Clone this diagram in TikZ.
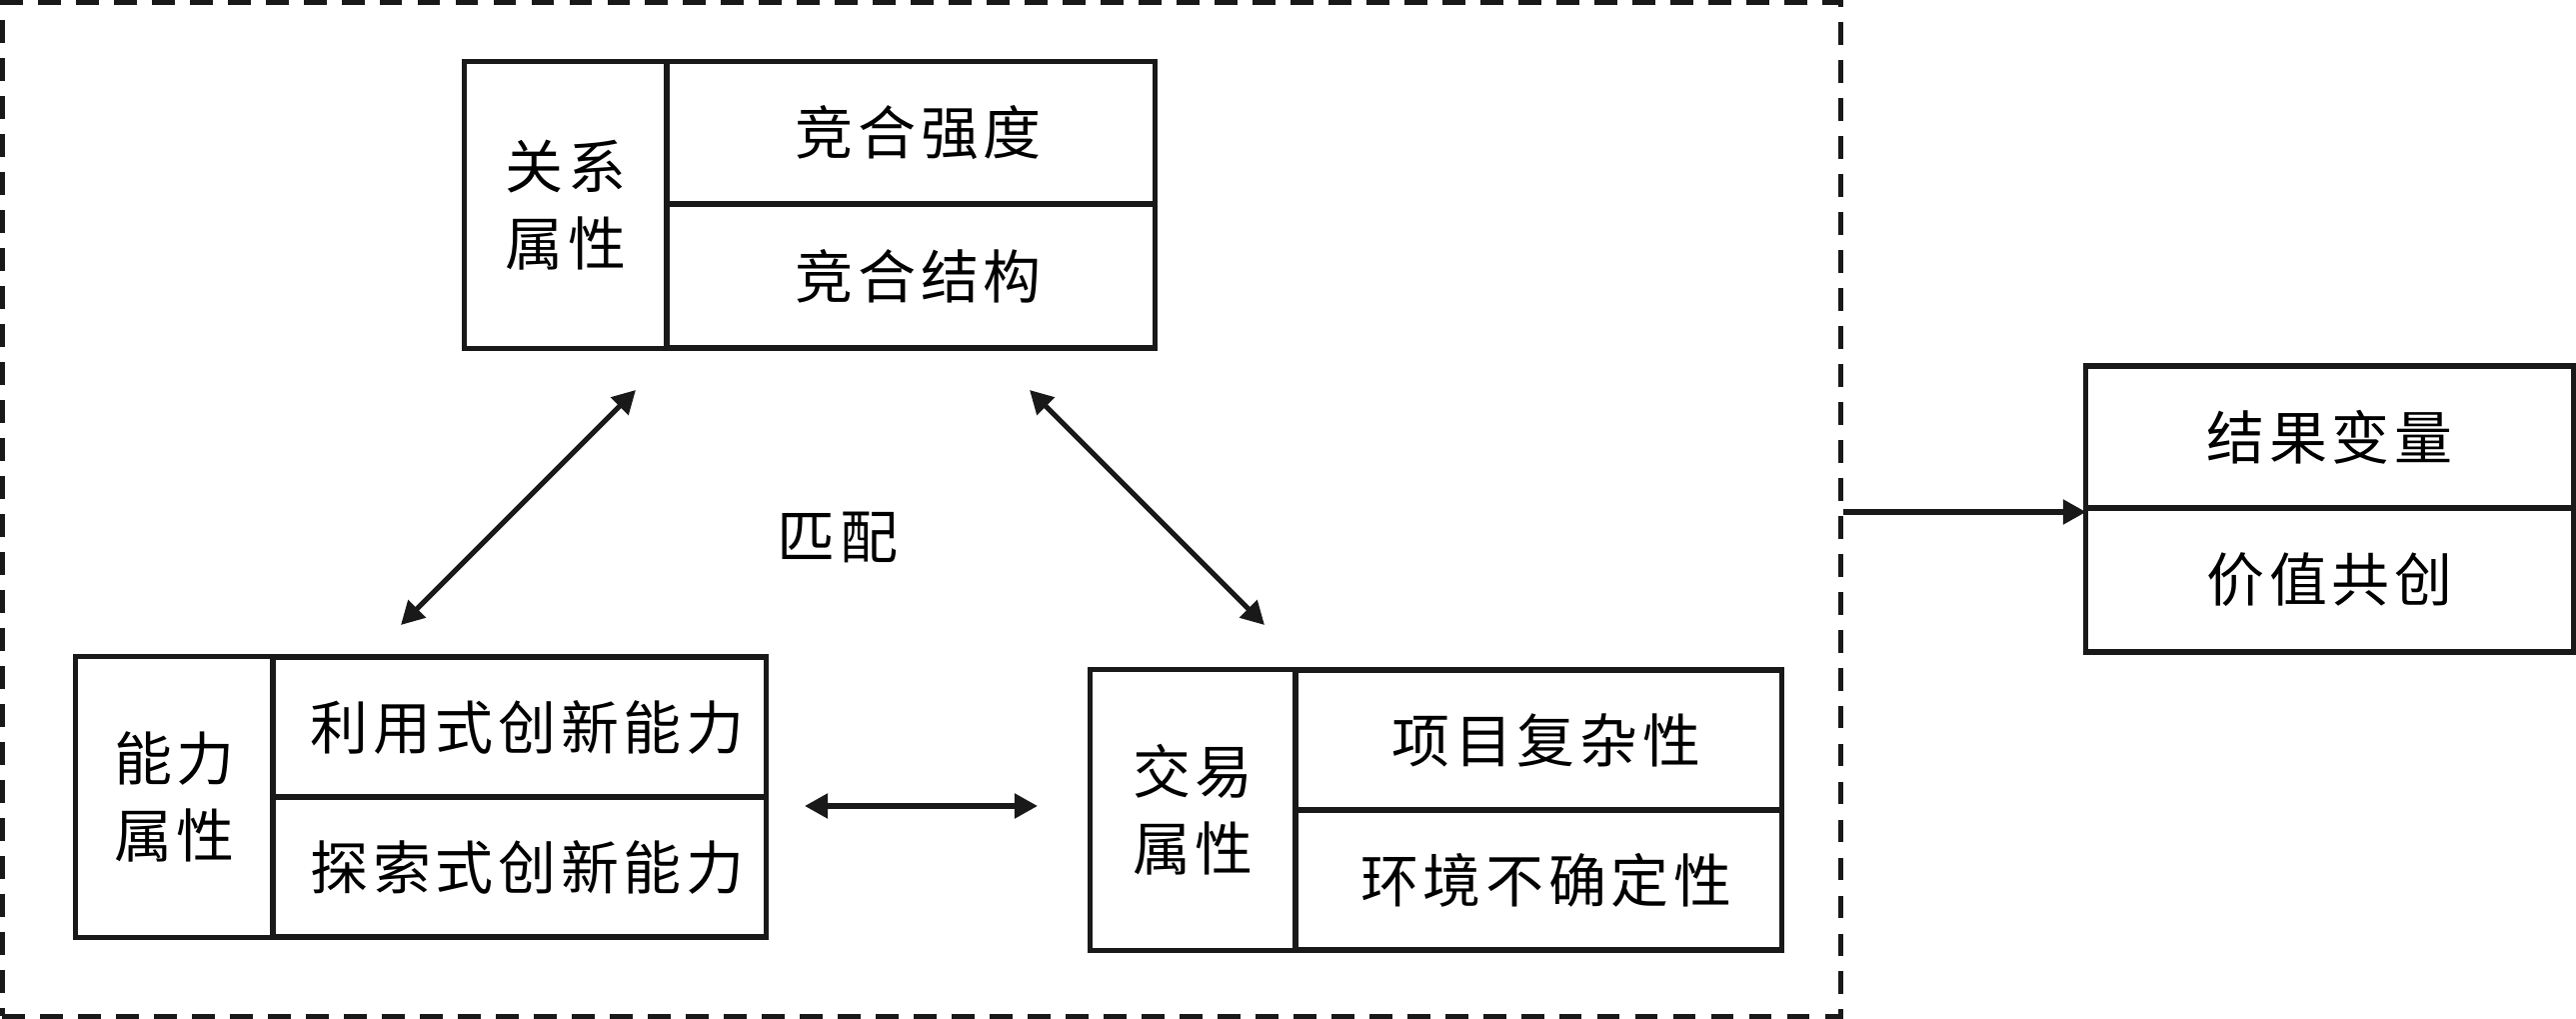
\documentclass[tikz,border=0pt]{standalone}
\usepackage{fontspec}
\setmainfont{Noto Sans CJK SC}[LetterSpace=8]
\usetikzlibrary{arrows.meta}
\tikzset{
  cell/.style={draw=black!90, line width=1.45pt, inner sep=0pt, outer sep=0pt,
    align=center, font=\fontsize{16.5}{22}\selectfont},
  rcell/.style={cell, execute at begin node={\hspace*{0.16cm}}},
  dashbox/.style={draw=black!90, line width=1.4pt, dash pattern=on 6.5pt off 4.3pt, inner sep=0pt},
  arr/.style={line width=1.5pt, draw=black!90, -{Triangle[length=0.23cm,width=0.24cm]}},
  darr/.style={line width=1.45pt, draw=black!90, {Triangle[length=0.23cm,width=0.24cm]}-{Triangle[length=0.23cm,width=0.24cm]}},
  lbl/.style={font=\fontsize{16.5}{22}\selectfont, inner sep=0pt}
}
\begin{document}
\begin{tikzpicture}[x=0.01cm,y=-0.01cm]
\useasboundingbox (0,0) rectangle (2577,1019);
% dashed frame
\node[dashbox, minimum width=18.38cm, minimum height=10.13cm] (frame) at (922,509.5) {};
% top box
\node[cell, minimum width=2.02cm, minimum height=2.86cm] (rl) at (566,205) {关系\\属性};
\node[rcell, minimum width=4.88cm, minimum height=1.42cm] (r1) at (911,133) {竞合强度};
\node[rcell, minimum width=4.88cm, minimum height=1.44cm] (r2) at (911,276) {竞合结构};
% left box
\node[cell, minimum width=1.97cm, minimum height=2.80cm] (cl) at (174.5,797) {能力\\属性};
\node[rcell, minimum width=4.93cm, minimum height=1.40cm] (c1) at (519.5,727) {利用式创新能力};
\node[rcell, minimum width=4.93cm, minimum height=1.40cm] (c2) at (519.5,867) {探索式创新能力};
% right box
\node[cell, minimum width=2.05cm, minimum height=2.80cm] (tl) at (1193.5,810) {交易\\属性};
\node[rcell, minimum width=4.86cm, minimum height=1.40cm] (t1) at (1539,740) {项目复杂性};
\node[rcell, minimum width=4.86cm, minimum height=1.40cm] (t2) at (1539,880) {环境不确定性};
% result box
\node[cell, minimum width=4.87cm, minimum height=1.42cm] (o1) at (2330.5,437) {结果变量};
\node[cell, minimum width=4.87cm, minimum height=1.44cm] (o2) at (2330.5,580) {价值共创};
% label
\node[lbl] (match) at (838,537) {匹配};
% arrow coordinates
\coordinate (la) at (636,390);
\coordinate (lb) at (401,625);
\coordinate (ra) at (1030,390);
\coordinate (rb) at (1265,625);
\coordinate (ha) at (805,806);
\coordinate (hb) at (1038,806);
\draw[darr] (la) -- (lb);
\draw[darr] (ra) -- (rb);
\draw[darr] (ha) -- (hb);
\draw[arr] ([yshift=-0.025cm]frame.east) -- ([yshift=-0.025cm]frame.east -| o1.west);
\end{tikzpicture}
\end{document}
